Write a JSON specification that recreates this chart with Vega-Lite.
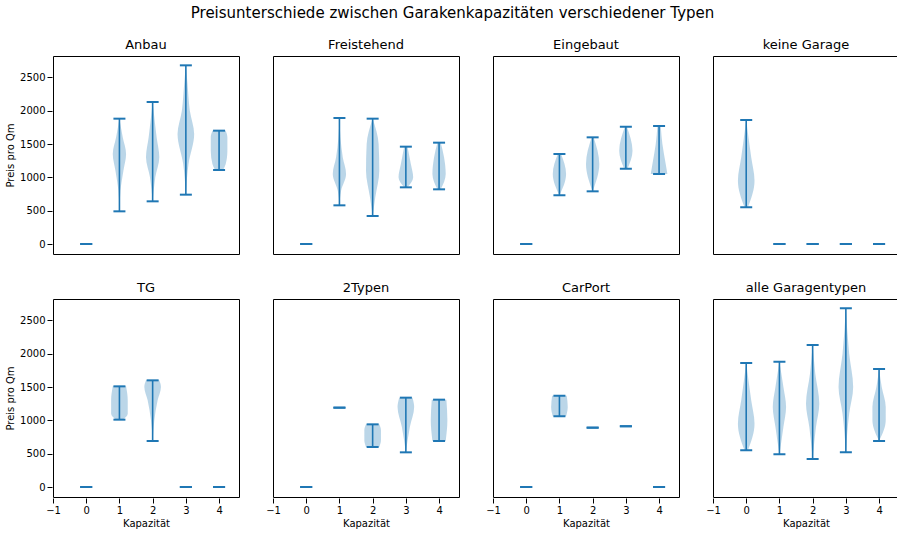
{
  "$schema": "https://vega.github.io/schema/vega-lite/v6.json",
  "title": {"text": "Preisunterschiede zwischen Garakenkapazitäten verschiedener Typen", "fontSize": 15, "fontWeight": "normal", "font": "DejaVu Sans", "offset": 18, "anchor": "middle"},
  "background": "white",
  "padding": {"left": 5, "top": 5, "right": 10, "bottom": 5},
  "data": {"values": [
      {"p": "Anbau", "k": 0, "lo": 0, "hi": 0}, {"p": "Anbau", "k": 1, "lo": 490, "hi": 1880}, {"p": "Anbau", "k": 2, "lo": 640, "hi": 2130}, {"p": "Anbau", "k": 3, "lo": 740, "hi": 2680}, {"p": "Anbau", "k": 4, "lo": 1110, "hi": 1700},
      {"p": "Freistehend", "k": 0, "lo": 0, "hi": 0}, {"p": "Freistehend", "k": 1, "lo": 580, "hi": 1890}, {"p": "Freistehend", "k": 2, "lo": 420, "hi": 1880}, {"p": "Freistehend", "k": 3, "lo": 850, "hi": 1460}, {"p": "Freistehend", "k": 4, "lo": 820, "hi": 1520},
      {"p": "Eingebaut", "k": 0, "lo": 0, "hi": 0}, {"p": "Eingebaut", "k": 1, "lo": 730, "hi": 1350}, {"p": "Eingebaut", "k": 2, "lo": 790, "hi": 1600}, {"p": "Eingebaut", "k": 3, "lo": 1130, "hi": 1760}, {"p": "Eingebaut", "k": 4, "lo": 1050, "hi": 1770},
      {"p": "keine Garage", "k": 0, "lo": 550, "hi": 1860}, {"p": "keine Garage", "k": 1, "lo": 0, "hi": 0}, {"p": "keine Garage", "k": 2, "lo": 0, "hi": 0}, {"p": "keine Garage", "k": 3, "lo": 0, "hi": 0}, {"p": "keine Garage", "k": 4, "lo": 0, "hi": 0},
      {"p": "TG", "k": 0, "lo": 0, "hi": 0}, {"p": "TG", "k": 1, "lo": 1010, "hi": 1510}, {"p": "TG", "k": 2, "lo": 690, "hi": 1600}, {"p": "TG", "k": 3, "lo": 0, "hi": 0}, {"p": "TG", "k": 4, "lo": 0, "hi": 0},
      {"p": "2Typen", "k": 0, "lo": 0, "hi": 0}, {"p": "2Typen", "k": 1, "lo": 1190, "hi": 1190}, {"p": "2Typen", "k": 2, "lo": 600, "hi": 940}, {"p": "2Typen", "k": 3, "lo": 520, "hi": 1340}, {"p": "2Typen", "k": 4, "lo": 690, "hi": 1310},
      {"p": "CarPort", "k": 0, "lo": 0, "hi": 0}, {"p": "CarPort", "k": 1, "lo": 1060, "hi": 1370}, {"p": "CarPort", "k": 2, "lo": 890, "hi": 890}, {"p": "CarPort", "k": 3, "lo": 910, "hi": 910}, {"p": "CarPort", "k": 4, "lo": 0, "hi": 0},
      {"p": "alle Garagentypen", "k": 0, "lo": 550, "hi": 1860}, {"p": "alle Garagentypen", "k": 1, "lo": 490, "hi": 1880}, {"p": "alle Garagentypen", "k": 2, "lo": 420, "hi": 2130}, {"p": "alle Garagentypen", "k": 3, "lo": 520, "hi": 2680}, {"p": "alle Garagentypen", "k": 4, "lo": 690, "hi": 1770},
      {"p": "Anbau", "k": 1, "y": 490, "d": 0}, {"p": "Anbau", "k": 1, "y": 800, "d": 0.03}, {"p": "Anbau", "k": 1, "y": 1100, "d": 0.12}, {"p": "Anbau", "k": 1, "y": 1350, "d": 0.2}, {"p": "Anbau", "k": 1, "y": 1600, "d": 0.1}, {"p": "Anbau", "k": 1, "y": 1880, "d": 0},
      {"p": "Anbau", "k": 2, "y": 640, "d": 0}, {"p": "Anbau", "k": 2, "y": 1000, "d": 0.08}, {"p": "Anbau", "k": 2, "y": 1300, "d": 0.2}, {"p": "Anbau", "k": 2, "y": 1600, "d": 0.12}, {"p": "Anbau", "k": 2, "y": 1900, "d": 0.05}, {"p": "Anbau", "k": 2, "y": 2130, "d": 0},
      {"p": "Anbau", "k": 3, "y": 740, "d": 0}, {"p": "Anbau", "k": 3, "y": 1200, "d": 0.08}, {"p": "Anbau", "k": 3, "y": 1650, "d": 0.25}, {"p": "Anbau", "k": 3, "y": 2000, "d": 0.12}, {"p": "Anbau", "k": 3, "y": 2400, "d": 0.05}, {"p": "Anbau", "k": 3, "y": 2680, "d": 0},
      {"p": "Anbau", "k": 4, "y": 1110, "d": 0.12}, {"p": "Anbau", "k": 4, "y": 1200, "d": 0.2}, {"p": "Anbau", "k": 4, "y": 1400, "d": 0.25}, {"p": "Anbau", "k": 4, "y": 1600, "d": 0.25}, {"p": "Anbau", "k": 4, "y": 1700, "d": 0.2},
      {"p": "Freistehend", "k": 1, "y": 580, "d": 0}, {"p": "Freistehend", "k": 1, "y": 800, "d": 0.05}, {"p": "Freistehend", "k": 1, "y": 1050, "d": 0.2}, {"p": "Freistehend", "k": 1, "y": 1300, "d": 0.1}, {"p": "Freistehend", "k": 1, "y": 1600, "d": 0.03}, {"p": "Freistehend", "k": 1, "y": 1890, "d": 0},
      {"p": "Freistehend", "k": 2, "y": 420, "d": 0}, {"p": "Freistehend", "k": 2, "y": 700, "d": 0.08}, {"p": "Freistehend", "k": 2, "y": 1100, "d": 0.2}, {"p": "Freistehend", "k": 2, "y": 1500, "d": 0.18}, {"p": "Freistehend", "k": 2, "y": 1880, "d": 0},
      {"p": "Freistehend", "k": 3, "y": 850, "d": 0.05}, {"p": "Freistehend", "k": 3, "y": 1000, "d": 0.22}, {"p": "Freistehend", "k": 3, "y": 1200, "d": 0.15}, {"p": "Freistehend", "k": 3, "y": 1460, "d": 0.05},
      {"p": "Freistehend", "k": 4, "y": 820, "d": 0.05}, {"p": "Freistehend", "k": 4, "y": 1050, "d": 0.2}, {"p": "Freistehend", "k": 4, "y": 1300, "d": 0.15}, {"p": "Freistehend", "k": 4, "y": 1520, "d": 0.05},
      {"p": "Eingebaut", "k": 1, "y": 730, "d": 0}, {"p": "Eingebaut", "k": 1, "y": 1050, "d": 0.2}, {"p": "Eingebaut", "k": 1, "y": 1350, "d": 0.05},
      {"p": "Eingebaut", "k": 2, "y": 790, "d": 0}, {"p": "Eingebaut", "k": 2, "y": 1200, "d": 0.2}, {"p": "Eingebaut", "k": 2, "y": 1600, "d": 0.03},
      {"p": "Eingebaut", "k": 3, "y": 1130, "d": 0.05}, {"p": "Eingebaut", "k": 3, "y": 1400, "d": 0.2}, {"p": "Eingebaut", "k": 3, "y": 1760, "d": 0.03},
      {"p": "Eingebaut", "k": 4, "y": 1050, "d": 0.25}, {"p": "Eingebaut", "k": 4, "y": 1200, "d": 0.2}, {"p": "Eingebaut", "k": 4, "y": 1500, "d": 0.1}, {"p": "Eingebaut", "k": 4, "y": 1770, "d": 0.05},
      {"p": "keine Garage", "k": 0, "y": 550, "d": 0.05}, {"p": "keine Garage", "k": 0, "y": 950, "d": 0.25}, {"p": "keine Garage", "k": 0, "y": 1300, "d": 0.15}, {"p": "keine Garage", "k": 0, "y": 1860, "d": 0},
      {"p": "TG", "k": 1, "y": 1010, "d": 0.1}, {"p": "TG", "k": 1, "y": 1100, "d": 0.25}, {"p": "TG", "k": 1, "y": 1300, "d": 0.25}, {"p": "TG", "k": 1, "y": 1510, "d": 0.2},
      {"p": "TG", "k": 2, "y": 690, "d": 0}, {"p": "TG", "k": 2, "y": 1000, "d": 0.05}, {"p": "TG", "k": 2, "y": 1300, "d": 0.15}, {"p": "TG", "k": 2, "y": 1500, "d": 0.25}, {"p": "TG", "k": 2, "y": 1600, "d": 0.2},
      {"p": "2Typen", "k": 2, "y": 600, "d": 0.2}, {"p": "2Typen", "k": 2, "y": 700, "d": 0.25}, {"p": "2Typen", "k": 2, "y": 850, "d": 0.25}, {"p": "2Typen", "k": 2, "y": 940, "d": 0.2},
      {"p": "2Typen", "k": 3, "y": 520, "d": 0}, {"p": "2Typen", "k": 3, "y": 900, "d": 0.12}, {"p": "2Typen", "k": 3, "y": 1200, "d": 0.25}, {"p": "2Typen", "k": 3, "y": 1340, "d": 0.2},
      {"p": "2Typen", "k": 4, "y": 690, "d": 0.2}, {"p": "2Typen", "k": 4, "y": 1000, "d": 0.25}, {"p": "2Typen", "k": 4, "y": 1310, "d": 0.22},
      {"p": "CarPort", "k": 1, "y": 1060, "d": 0.2}, {"p": "CarPort", "k": 1, "y": 1200, "d": 0.25}, {"p": "CarPort", "k": 1, "y": 1370, "d": 0.22},
      {"p": "alle Garagentypen", "k": 0, "y": 550, "d": 0.05}, {"p": "alle Garagentypen", "k": 0, "y": 950, "d": 0.25}, {"p": "alle Garagentypen", "k": 0, "y": 1300, "d": 0.15}, {"p": "alle Garagentypen", "k": 0, "y": 1860, "d": 0},
      {"p": "alle Garagentypen", "k": 1, "y": 490, "d": 0}, {"p": "alle Garagentypen", "k": 1, "y": 900, "d": 0.12}, {"p": "alle Garagentypen", "k": 1, "y": 1200, "d": 0.2}, {"p": "alle Garagentypen", "k": 1, "y": 1500, "d": 0.12}, {"p": "alle Garagentypen", "k": 1, "y": 1880, "d": 0},
      {"p": "alle Garagentypen", "k": 2, "y": 420, "d": 0}, {"p": "alle Garagentypen", "k": 2, "y": 900, "d": 0.1}, {"p": "alle Garagentypen", "k": 2, "y": 1250, "d": 0.2}, {"p": "alle Garagentypen", "k": 2, "y": 1700, "d": 0.08}, {"p": "alle Garagentypen", "k": 2, "y": 2130, "d": 0},
      {"p": "alle Garagentypen", "k": 3, "y": 520, "d": 0}, {"p": "alle Garagentypen", "k": 3, "y": 1100, "d": 0.1}, {"p": "alle Garagentypen", "k": 3, "y": 1500, "d": 0.22}, {"p": "alle Garagentypen", "k": 3, "y": 2000, "d": 0.1}, {"p": "alle Garagentypen", "k": 3, "y": 2680, "d": 0},
      {"p": "alle Garagentypen", "k": 4, "y": 690, "d": 0}, {"p": "alle Garagentypen", "k": 4, "y": 1000, "d": 0.2}, {"p": "alle Garagentypen", "k": 4, "y": 1200, "d": 0.2}, {"p": "alle Garagentypen", "k": 4, "y": 1500, "d": 0.08}, {"p": "alle Garagentypen", "k": 4, "y": 1770, "d": 0}
  ]},
  "facet": {
    "field": "p", "type": "nominal",
    "sort": ["Anbau", "Freistehend", "Eingebaut", "keine Garage", "TG", "2Typen", "CarPort", "alle Garagentypen"],
    "header": {"title": null, "labelFontSize": 13, "labelFont": "DejaVu Sans", "labelPadding": 4, "labelColor": "black"}
  },
  "columns": 4,
  "spacing": {"column": 32, "row": 26},
  "spec": {
    "width": 186,
    "height": 198,
    "encoding": {
      "x": {"type": "quantitative", "title": "Kapazität", "scale": {"domain": [-1, 4.6], "nice": false}},
      "y": {"type": "quantitative", "title": "Preis pro Qm", "scale": {"domain": [-150, 2820], "nice": false}, "axis": {"format": "d"}}
    },
    "layer": [
      {
        "transform": [
          {"filter": "isValid(datum.d)"},
          {"calculate": "datum.k - datum.d", "as": "x1"},
          {"calculate": "datum.k + datum.d", "as": "x2"}
        ],
        "mark": {"type": "area", "orient": "horizontal", "interpolate": "monotone", "color": "#1f77b4", "opacity": 0.3},
        "encoding": {
          "y": {"field": "y", "type": "quantitative"},
          "x": {"field": "x1", "type": "quantitative"},
          "x2": {"field": "x2"},
          "detail": {"field": "k"}
        }
      },
      {
        "transform": [{"filter": "isValid(datum.lo)"}],
        "mark": {"type": "rule", "color": "#1f77b4", "strokeWidth": 1.6},
        "encoding": {
          "x": {"field": "k", "type": "quantitative"},
          "y": {"field": "lo", "type": "quantitative"},
          "y2": {"field": "hi"}
        }
      },
      {
        "transform": [{"filter": "isValid(datum.lo)"}],
        "mark": {"type": "tick", "orient": "horizontal", "color": "#1f77b4", "size": 12, "thickness": 2, "opacity": 1},
        "encoding": {
          "x": {"field": "k", "type": "quantitative"},
          "y": {"field": "lo", "type": "quantitative"}
        }
      },
      {
        "transform": [{"filter": "isValid(datum.lo)"}],
        "mark": {"type": "tick", "orient": "horizontal", "color": "#1f77b4", "size": 12, "thickness": 2, "opacity": 1},
        "encoding": {
          "x": {"field": "k", "type": "quantitative"},
          "y": {"field": "hi", "type": "quantitative"}
        }
      }
    ]
  },
  "config": {
    "font": "DejaVu Sans",
    "view": {"stroke": "black", "strokeWidth": 1},
    "axisX": {"values": [0, 1, 2, 3, 4], "grid": false, "domain": false, "labelFontSize": 10, "titleFontSize": 10, "titleFontWeight": "normal", "tickColor": "black", "labelColor": "black", "titleColor": "black", "labelFlush": false, "titlePadding": 3},
    "axisY": {"values": [0, 500, 1000, 1500, 2000, 2500], "grid": false, "domain": false, "labelFontSize": 10, "titleFontSize": 10, "titleFontWeight": "normal", "tickColor": "black", "labelColor": "black", "titleColor": "black"},
    "axis": {"labelFont": "DejaVu Sans", "titleFont": "DejaVu Sans"}
  }
}
